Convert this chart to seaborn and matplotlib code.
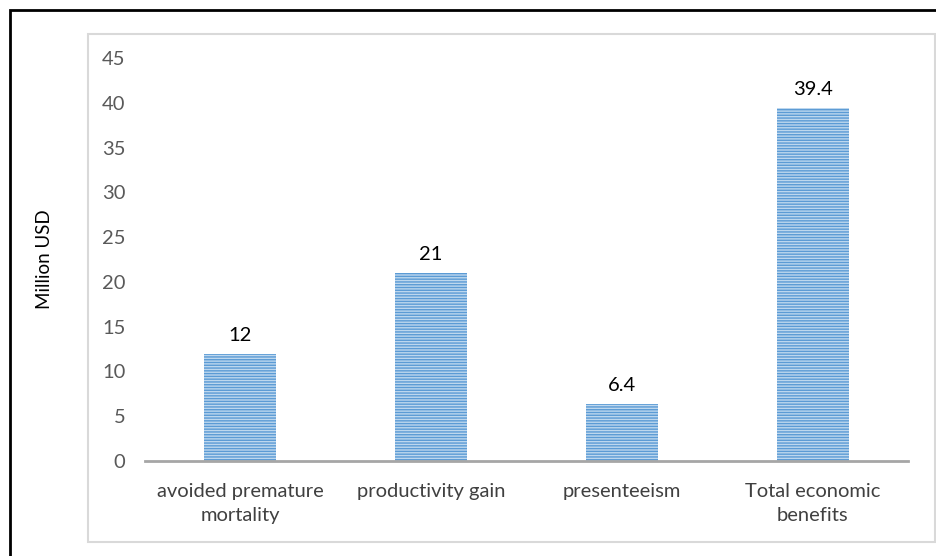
import matplotlib
matplotlib.use('Agg')
import matplotlib.pyplot as plt
from matplotlib.patches import Rectangle
import pandas as pd
import seaborn as sns

categories = ['avoided premature\nmortality', 'productivity gain', 'presenteeism',
              'Total economic\nbenefits']
values = [12, 21, 6.4, 39.4]
value_labels = ['12', '21', '6.4', '39.4']
y_ticks = [0, 5, 10, 15, 20, 25, 30, 35, 40, 45]

sns.set_style('white')
plt.rcParams['font.family'] = ['Lato', 'DejaVu Sans']
plt.rcParams['hatch.linewidth'] = 1.0

df = pd.DataFrame({'category': categories, 'value': values})

fig = plt.figure(figsize=(9.36, 5.56), dpi=100)
ax = fig.add_axes([0.1549, 0.1709, 0.8152, 0.7248])

sns.barplot(data=df, x='category', y='value', color='#BDD7EE', width=0.377,
            saturation=1, ax=ax)
for p in ax.patches:
    p.set_hatch('------')
    p.set_edgecolor('#5B9BD5')
    p.set_linewidth(0)

for p, lab in zip(ax.patches, value_labels):
    ax.annotate(lab, (p.get_x() + p.get_width() / 2, p.get_height()),
                xytext=(0, 7), textcoords='offset points', ha='center', va='bottom',
                fontsize=14.5, color='#000000')

ax.set_ylim(0, 45)
ax.set_yticks(y_ticks)
ax.set_xlim(-0.5, 3.5)
ax.set_xlabel('')
ax.set_ylabel('Million USD', fontsize=13.5, color='#000000')
ax.yaxis.set_label_coords(-0.121, 0.5)
ax.tick_params(axis='y', length=0, pad=14, labelsize=14.5, labelcolor='#595959')
ax.tick_params(axis='x', length=0, pad=16, labelsize=14.5, labelcolor='#404040')
for t in ax.get_xticklabels():
    t.set_linespacing(1.45)
for s in ['left', 'top', 'right']:
    ax.spines[s].set_visible(False)
ax.spines['bottom'].set_color('#A6A6A6')
ax.spines['bottom'].set_linewidth(2)

# inner chart-area box
fig.patches.append(Rectangle((0.094, 0.0252), 0.905, 0.9136, transform=fig.transFigure,
                             fill=False, edgecolor='#D9D9D9', linewidth=1.5, zorder=0))
# outer black frame
fig.patches.append(Rectangle((0.0107, -0.02), 1.0, 1.002, transform=fig.transFigure,
                             fill=False, edgecolor='#000000', linewidth=2, zorder=0))

fig.savefig('out.png', dpi=100)
